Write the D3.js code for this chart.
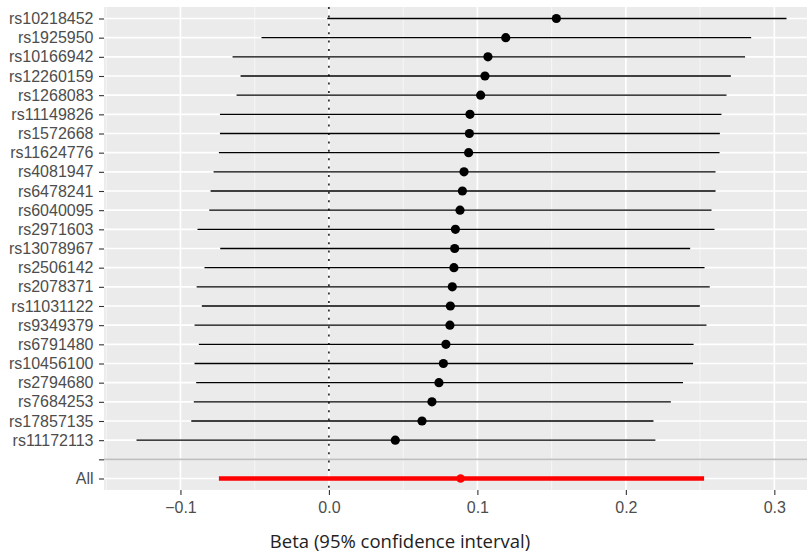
<!DOCTYPE html>
<html><head><meta charset="utf-8">
<script src="https://cdn.jsdelivr.net/npm/d3@7"></script>
<style>body{margin:0;background:#fff}svg{display:block}</style>
</head><body>
<svg id="chart" width="807" height="555"></svg>
<script>
const snps = ["rs10218452","rs1925950","rs10166942","rs12260159","rs1268083","rs11149826","rs1572668","rs11624776","rs4081947","rs6478241","rs6040095","rs2971603","rs13078967","rs2506142","rs2078371","rs11031122","rs9349379","rs6791480","rs10456100","rs2794680","rs7684253","rs17857135","rs11172113"];
const beta  = [0.1532,0.1191,0.1071,0.1051,0.1022,0.0950,0.0946,0.0941,0.0910,0.0899,0.0883,0.0852,0.0847,0.0842,0.0831,0.0818,0.0815,0.0788,0.0771,0.0741,0.0694,0.0627,0.0447];
const lower = [-0.0011,-0.0454,-0.0649,-0.0595,-0.0622,-0.0734,-0.0734,-0.0741,-0.0777,-0.0797,-0.0806,-0.0885,-0.0732,-0.0838,-0.0891,-0.0856,-0.0905,-0.0876,-0.0905,-0.0894,-0.0910,-0.0927,-0.1296];
const upper = [0.3082,0.2844,0.2803,0.2707,0.2678,0.2644,0.2633,0.2631,0.2604,0.2604,0.2577,0.2597,0.2433,0.2530,0.2565,0.2498,0.2543,0.2456,0.2453,0.2385,0.2303,0.2186,0.2199];
const allLabel = "All";
const allBeta = 0.0887, allLower = -0.0741, allUpper = 0.2527;
const xTicks = [-0.1, 0.0, 0.1, 0.2, 0.3];
const xMinor = [-0.15, -0.05, 0.05, 0.15, 0.25];
const xTitle = "Beta (95% confidence interval)";

const svg = d3.select("#chart");
const panel = {left: 104, top: 7, width: 715, height: 483};
const categories = snps.concat([""], [allLabel]);

const lo = d3.min(lower.concat([allLower])), hi = d3.max(upper.concat([allUpper]));
const pad = (hi - lo) * 0.05;
const x = d3.scaleLinear().domain([lo - pad, hi + pad]).range([panel.left, panel.left + panel.width]);
const y = d3.scalePoint().domain(categories).range([panel.top, panel.top + panel.height]).padding(0.6);

svg.append("rect").attr("x", panel.left).attr("y", panel.top)
  .attr("width", panel.width).attr("height", panel.height).attr("fill", "#EBEBEB");

const g = svg.append("g");
g.selectAll("line.minor").data(xMinor).join("line")
  .attr("x1", d => x(d)).attr("x2", d => x(d))
  .attr("y1", panel.top).attr("y2", panel.top + panel.height)
  .attr("stroke", "#F7F7F7").attr("stroke-width", 0.9);
g.selectAll("line.majx").data(xTicks).join("line")
  .attr("x1", d => x(d)).attr("x2", d => x(d))
  .attr("y1", panel.top).attr("y2", panel.top + panel.height)
  .attr("stroke", "#fff").attr("stroke-width", 1.7);
g.selectAll("line.majy").data(categories).join("line")
  .attr("x1", panel.left).attr("x2", panel.left + panel.width)
  .attr("y1", d => y(d)).attr("y2", d => y(d))
  .attr("stroke", "#fff").attr("stroke-width", 1.7);

g.append("line").attr("x1", panel.left).attr("x2", panel.left + panel.width)
  .attr("y1", y("")).attr("y2", y(""))
  .attr("stroke", "#BEBEBE").attr("stroke-width", 1.6);

g.append("line").attr("x1", x(0)).attr("x2", x(0))
  .attr("y1", panel.top).attr("y2", panel.top + panel.height)
  .attr("stroke", "#000").attr("stroke-width", 1.4).attr("stroke-dasharray", "2,6.4");

const rows = snps.map((s, i) => ({s, b: beta[i], l: lower[i], u: upper[i]}));
g.selectAll("line.ci").data(rows).join("line")
  .attr("x1", d => x(d.l)).attr("x2", d => x(d.u))
  .attr("y1", d => y(d.s)).attr("y2", d => y(d.s))
  .attr("stroke", "#000").attr("stroke-width", 1.3);
g.selectAll("circle.pt").data(rows).join("circle")
  .attr("cx", d => x(d.b)).attr("cy", d => y(d.s)).attr("r", 4.6).attr("fill", "#000");

g.append("line").attr("x1", x(allLower)).attr("x2", x(allUpper))
  .attr("y1", y(allLabel)).attr("y2", y(allLabel))
  .attr("stroke", "#FF0000").attr("stroke-width", 4.5);
g.append("circle").attr("cx", x(allBeta)).attr("cy", y(allLabel)).attr("r", 4.3).attr("fill", "#FF0000");

const yAxis = d3.axisLeft(y).tickSize(5).tickPadding(5.5);
const ya = svg.append("g").attr("transform", `translate(${panel.left},0)`).call(yAxis);
ya.select(".domain").remove();
ya.selectAll(".tick line").attr("stroke", "#333").attr("stroke-width", 1.1);
ya.selectAll(".tick text").attr("fill", "#4D4D4D").style("font-family", "'Liberation Sans', Arial, sans-serif").style("font-size", "16px");

const xAxis = d3.axisBottom(x).tickValues(xTicks).tickSize(5).tickPadding(7)
  .tickFormat(d => d3.format(".1f")(d).replace("-", "\u2212"));
const xa = svg.append("g").attr("transform", `translate(0,${panel.top + panel.height})`).call(xAxis);
xa.select(".domain").remove();
xa.selectAll(".tick line").attr("stroke", "#333").attr("stroke-width", 1.1);
xa.selectAll(".tick text").attr("fill", "#4D4D4D").style("font-family", "'Liberation Sans', Arial, sans-serif").style("font-size", "16px");

svg.append("text").attr("x", 400).attr("y", 548).attr("text-anchor", "middle")
  .attr("fill", "#222").style("font-family", "'Open Sans', 'Noto Sans', sans-serif").style("font-size", "18.5px")
  .text(xTitle);
</script>
</body></html>
